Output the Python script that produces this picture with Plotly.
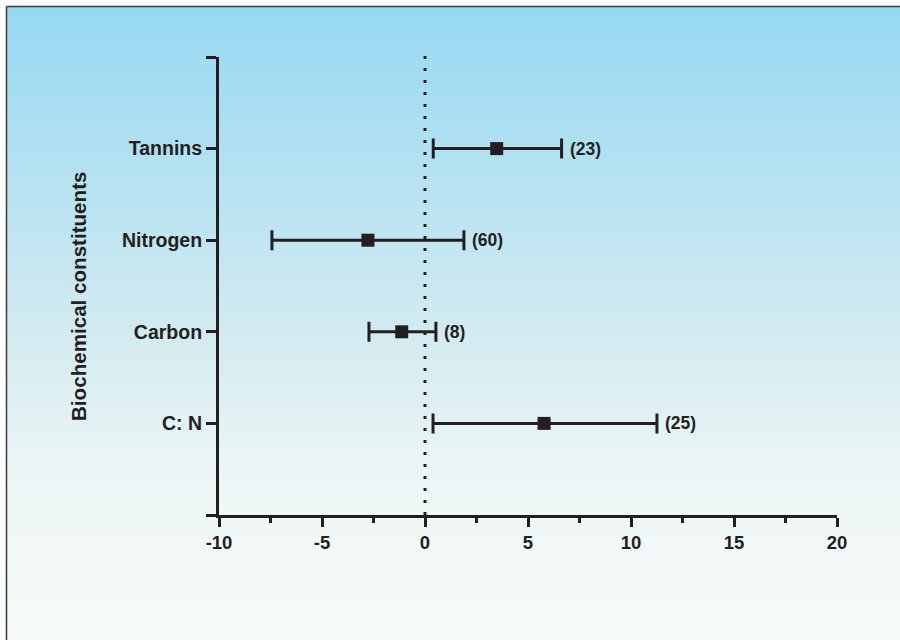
import plotly.graph_objects as go

# ---- data ----
categories = ["C: N", "Carbon", "Nitrogen", "Tannins"]
positions = [1, 2, 3, 4]
means = [5.78, -1.13, -2.77, 3.48]
lower = [0.39, -2.72, -7.43, 0.40]
upper = [11.26, 0.53, 1.89, 6.63]
n_labels = ["(25)", "(8)", "(60)", "(23)"]
x_ticks = [-10, -5, 0, 5, 10, 15, 20]

INK = "#231F20"
W, H = 900, 640
ML, MR, MT, MB = 219, 63, 57, 125
PW, PH = W - ML - MR, H - MT - MB

def px_to_paper_x(px):
    return (px - ML) / PW

def px_to_paper_y(py):
    return (H - MB - py) / PH

fig = go.Figure()

fig.add_trace(go.Scatter(
    x=means, y=positions, mode="markers",
    marker=dict(symbol="square", size=13, color=INK),
    error_x=dict(type="data", symmetric=False,
                 array=[u - m for u, m in zip(upper, means)],
                 arrayminus=[m - l for m, l in zip(means, lower)],
                 color=INK, thickness=3, width=10),
    showlegend=False, hoverinfo="x+y",
))

shapes = []
# background gradient (bands)
stops = [(7, (150, 217, 242)), (200, (186, 227, 242)), (350, (214, 236, 241)),
         (480, (237, 246, 246)), (640, (247, 250, 249))]

def col_at(py):
    for (y0, c0), (y1, c1) in zip(stops[:-1], stops[1:]):
        if y0 <= py <= y1:
            t = (py - y0) / (y1 - y0)
            return tuple(round(a + (b - a) * t) for a, b in zip(c0, c1))
    return stops[-1][1]

step = 4
py = 7
while py < H:
    c = col_at(py + step / 2)
    col = "rgb(%d,%d,%d)" % c
    shapes.append(dict(type="rect", xref="paper", yref="paper", layer="below",
                       x0=px_to_paper_x(7), x1=px_to_paper_x(W + 60),
                       y0=px_to_paper_y(min(py + step + 1, H + 20)), y1=px_to_paper_y(py),
                       fillcolor=col, line=dict(width=0, color=col)))
    py += step
# left/top border
shapes.append(dict(type="line", xref="paper", yref="paper", layer="below",
                   x0=px_to_paper_x(6.5), x1=px_to_paper_x(W + 60),
                   y0=px_to_paper_y(6.5), y1=px_to_paper_y(6.5),
                   line=dict(color="#3a3a3a", width=1.5)))
shapes.append(dict(type="line", xref="paper", yref="paper", layer="below",
                   x0=px_to_paper_x(6.5), x1=px_to_paper_x(6.5),
                   y0=px_to_paper_y(6.5), y1=px_to_paper_y(H + 20),
                   line=dict(color="#3a3a3a", width=1.5)))
# dotted zero line
shapes.append(dict(type="line", xref="x", yref="paper", layer="above",
                   x0=0, x1=0, y0=0, y1=px_to_paper_y(47),
                   line=dict(color=INK, width=3, dash="3px,9px")))

annotations = []
for u, p, t in zip(upper, positions, n_labels):
    annotations.append(dict(x=u, y=p, xref="x", yref="y", text=t, showarrow=False,
                            xanchor="left", yanchor="middle", xshift=6,
                            font=dict(family="Liberation Sans, Arial", size=17.5,
                                      color=INK, weight="bold")))
annotations.append(dict(x=px_to_paper_x(78), y=px_to_paper_y(297), xref="paper", yref="paper",
                        text="Biochemical constituents", showarrow=False, textangle=-90,
                        xanchor="center", yanchor="middle",
                        font=dict(family="Liberation Sans, Arial", size=20.6,
                                  color=INK, weight="bold")))

fig.update_layout(
    width=W, height=H,
    margin=dict(l=ML, r=MR, t=MT, b=MB, pad=0),
    paper_bgcolor="white", plot_bgcolor="rgba(0,0,0,0)",
    shapes=shapes, annotations=annotations,
    xaxis=dict(range=[-10, 20], tickvals=x_ticks, ticktext=[str(v) for v in x_ticks],
               showgrid=False, zeroline=False, showline=True, linewidth=3, linecolor=INK,
               ticks="outside", ticklen=9, tickwidth=3, tickcolor=INK,
               minor=dict(dtick=2.5, tick0=0, ticks="outside", ticklen=5, tickwidth=3,
                          tickcolor=INK, showgrid=False),
               tickfont=dict(family="Liberation Sans, Arial", size=18.5, color=INK,
                             weight="bold"),
               fixedrange=True),
    yaxis=dict(range=[0, 5], tickvals=[0, 1, 2, 3, 4, 5],
               ticktext=[""] + categories + [""],
               showgrid=False, zeroline=False, showline=True, linewidth=3, linecolor=INK,
               ticks="outside", ticklen=10, tickwidth=3, tickcolor=INK,
               tickfont=dict(family="Liberation Sans, Arial", size=19.5, color=INK,
                             weight="bold"),
               fixedrange=True),
)

fig.write_html(
    "out.html",
    config={"displayModeBar": False},
    post_script="document.body.style.margin='0';document.body.style.overflow='hidden';",
)
